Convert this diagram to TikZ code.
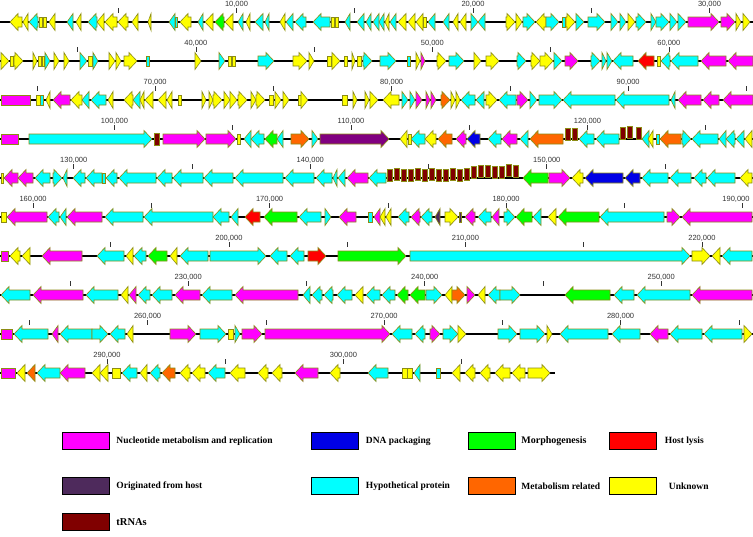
\documentclass[tikz,border=0pt]{standalone}
\usepackage{fontspec}
\setmainfont{Liberation Serif}
\setsansfont{Liberation Sans}
\usetikzlibrary{positioning}

\definecolor{mag}{RGB}{255,0,255}
\definecolor{cya}{RGB}{0,255,255}
\definecolor{yel}{RGB}{255,255,0}
\definecolor{grn}{RGB}{0,255,0}
\definecolor{hred}{RGB}{255,0,0}
\definecolor{blu}{RGB}{0,0,230}
\definecolor{ora}{RGB}{255,102,0}
\definecolor{pur}{RGB}{128,0,128}
\definecolor{hostp}{RGB}{78,42,92}
\definecolor{trnared}{RGB}{128,0,0}
\definecolor{edge}{RGB}{140,140,20}

\tikzset{
  gene/.style={draw=edge, line width=0.6pt, line join=miter},
  trnab/.style={draw=edge, fill=trnared, line width=0.8pt},
  track/.style={line width=1.4pt, black},
  tickln/.style={line width=0.6pt, black!80},
  ticklab/.style={font={\sffamily\fontsize{7.5}{8}\selectfont}, text=black!80, inner sep=0pt},
  legbox/.style={draw=black, line width=0.5pt, minimum width=47pt, minimum height=17pt, inner sep=0pt},
  legtext/.style={font={\bfseries\fontsize{9.5}{11}\selectfont}, inner sep=0pt}
}

% one gene: x1, x2, f/r/b, colour
\newcommand{\genef}[3]{%
  \pgfmathsetmacro{\hx}{max(#1,#2-8)}%
  \filldraw[gene,fill=#3] (#1,-5) -- (\hx,-5) -- (\hx,-8.5) -- (#2,0) -- (\hx,8.5) -- (\hx,5) -- (#1,5) -- cycle;}
\newcommand{\gener}[3]{%
  \pgfmathsetmacro{\hx}{min(#2,#1+8)}%
  \filldraw[gene,fill=#3] (#2,-5) -- (\hx,-5) -- (\hx,-8.5) -- (#1,0) -- (\hx,8.5) -- (\hx,5) -- (#2,5) -- cycle;}
\newcommand{\geneb}[3]{\filldraw[gene,fill=#3] (#1,-5) rectangle (#2,5);}
\newcommand{\gene}[4]{\csname gene#3\endcsname{#1}{#2}{#4}}
% tRNA: x, lift
\newcommand{\trna}[2]{\filldraw[trnab] ({#1},{3-#2}) rectangle ({#1+5},{-9-#2});}

\begin{document}
\begin{tikzpicture}[x=1pt, y=-1pt]
\fill[white] (0,0) rectangle (753,536);
\useasboundingbox (0,0) rectangle (753,536);

% backbone
\foreach \r in {0,...,8}
  \draw[track] (0,{22+39*\r}) -- (753,{22+39*\r});
\draw[track] (0,373) -- (555,373);

% scale
\foreach \n in {1,...,61}{
  \pgfmathtruncatemacro{\kb}{5*\n}
  \pgfmathtruncatemacro{\rw}{floor(\kb/31.72)}
  \pgfmathsetmacro{\tx}{(\kb-\rw*31.72)*23.65}
  \pgfmathsetmacro{\lx}{min(\tx,736)}
  \pgfmathsetmacro{\ty}{22+39*\rw}
  \draw[tickln] (\tx,\ty-14) -- (\tx,\ty-9);
  \ifodd\n\else \node[ticklab] (t\n) at (\lx,\ty-18) {\kb,000}; \fi
}

% row 1
\begin{scope}[shift={(0,22)}]
\foreach \xa/\xb/\gd/\col in {10/22/r/yel, 23/28/r/yel, 29/38/r/cya, 39/42/b/yel, 43/46/b/yel, 49/55/r/yel,
  67/73/r/cya, 76/81/r/yel, 88/97/r/cya, 97/104/r/yel, 105/117/r/yel, 118/128/r/yel, 132/138/r/yel,
  148/151/r/yel, 169/175/r/cya, 175/177/b/cya, 180/191/r/yel, 198/203/r/cya, 205/213/r/yel, 215/224/r/grn,
  225/233/r/yel, 238/243/r/cya, 246/250/r/yel, 255/263/r/cya, 265/269/r/cya, 280/285/r/yel, 286/293/r/cya,
  295/306/r/cya, 313/330/r/cya, 331/334/b/yel, 335/338/b/yel, 345/350/r/cya, 357/364/r/cya, 366/371/r/cya,
  373/379/r/cya, 379/384/r/cya, 385/389/r/yel, 390/396/r/cya, 398/406/r/yel, 408/415/r/yel, 416/423/r/yel,
  423/426/b/yel, 428/435/r/cya, 443/449/r/cya, 453/458/r/yel, 460/466/r/yel, 471/478/f/cya, 478/485/r/cya,
  506/515/f/yel, 516/522/f/yel, 523/535/f/cya, 536/546/r/yel, 546/559/f/cya, 562/565/b/cya, 566/575/f/yel,
  576/584/f/cya, 588/605/f/cya, 611/618/f/cya, 620/626/f/cya, 628/635/f/yel, 636/646/f/cya, 651/656/f/cya,
  656/669/f/cya, 670/677/f/cya, 678/686/f/cya, 688/719/f/mag, 721/735/f/mag, 736/741/f/yel, 743/750/f/yel}
  {\gene{\xa}{\xb}{\gd}{\col}}
\end{scope}

% row 2
\begin{scope}[shift={(0,61)}]
\foreach \xa/\xb/\gd/\col in {1/9/f/yel, 10/13/b/yel, 14/23/f/yel, 33/37/f/yel, 38/41/b/yel, 42/44/b/yel,
  45/50/f/cya, 54/59/f/yel, 64/69/f/yel, 80/87/f/cya, 88/92/b/yel, 93/98/f/cya, 109/115/f/yel, 116/121/f/yel,
  124/137/f/yel, 146/149/b/cya, 195/201/f/yel, 219/225/f/cya, 228/231/b/yel, 232/235/b/yel, 258/274/f/cya,
  293/307/f/yel, 309/314/f/yel, 327/331/b/yel, 332/340/f/yel, 344/347/b/yel, 352/355/f/yel, 357/361/b/yel,
  363/372/f/cya, 380/396/f/cya, 407/410/b/cya, 416/420/f/yel, 421/425/f/mag, 437/446/f/yel, 449/464/f/cya,
  474/481/f/yel, 486/499/f/yel, 517/526/f/cya, 531/540/f/yel, 540/553/f/yel, 554/562/f/cya, 565/578/f/mag,
  591/600/f/cya, 602/606/f/cya, 607/612/f/cya, 613/633/r/cya, 638/654/r/hred, 657/660/b/yel, 661/670/r/cya,
  671/698/r/cya, 701/726/r/mag, 728/753/r/mag}
  {\gene{\xa}{\xb}{\gd}{\col}}
\end{scope}

% row 3
\begin{scope}[shift={(0,100)}]
\foreach \xa/\xb/\gd/\col in {1/30/b/mag, 36/40/b/yel, 40/43/b/cya, 46/50/r/yel, 53/70/r/mag, 71/82/r/yel,
  82/89/r/cya, 91/106/r/cya, 108/113/r/yel, 124/133/r/yel, 133/140/r/cya, 140/144/r/yel, 145/153/r/yel,
  158/166/r/yel, 167/172/r/yel, 178/181/b/yel, 202/206/f/yel, 209/213/f/yel, 213/222/f/yel, 224/230/f/yel,
  230/237/f/yel, 238/247/f/yel, 251/256/f/yel, 256/265/f/yel, 269/273/b/yel, 275/281/f/yel, 283/289/f/yel,
  298/301/b/yel, 301/308/f/yel, 342/347/b/yel, 353/357/f/yel, 365/369/f/yel, 370/378/f/yel, 383/399/r/yel,
  402/408/f/cya, 410/415/f/cya, 416/422/f/mag, 426/430/f/mag, 431/436/f/mag, 441/450/f/ora, 451/455/f/yel,
  456/460/f/yel, 461/475/r/cya, 476/484/r/cya, 486/497/f/yel, 499/516/r/cya, 517/528/f/mag, 530/537/f/cya,
  539/562/f/cya, 563/615/r/cya, 616/669/r/cya, 671/675/r/cya, 678/701/r/mag, 703/719/r/mag, 723/753/r/mag}
  {\gene{\xa}{\xb}{\gd}{\col}}
\end{scope}

% row 4
\begin{scope}[shift={(0,139)}]
\foreach \xa/\xb/\gd/\col in {1/18/b/mag, 29/152/f/cya, 163/205/f/mag, 206/236/f/mag, 237/240/b/yel,
  244/251/r/cya, 251/264/r/cya, 265/277/r/grn, 277/283/r/cya, 291/309/f/ora, 312/318/f/cya, 320/389/f/pur,
  400/407/r/yel, 408/411/b/yel, 411/425/r/cya, 425/436/r/yel, 438/452/r/ora, 456/466/r/mag, 467/480/r/blu,
  488/501/r/cya, 502/517/r/mag, 520/528/r/cya, 530/563/r/ora, 579/594/r/cya, 596/619/r/cya, 642/649/r/cya,
  648/653/r/yel, 656/659/b/cya, 660/681/r/ora, 682/691/f/cya, 692/718/r/cya, 719/726/r/cya, 726/735/r/cya,
  736/744/r/cya, 745/752/r/yel}
  {\gene{\xa}{\xb}{\gd}{\col}}
\foreach \xa/\lf in {154/-3, 565/2, 572/2, 620/3, 627/4, 636/3}
  {\trna{\xa}{\lf}}
\end{scope}

% row 5
\begin{scope}[shift={(0,178)}]
\foreach \xa/\xb/\gd/\col in {1/3/b/yel, 4/18/r/mag, 18/33/r/mag, 35/50/r/cya, 53/62/f/cya, 63/67/r/cya,
  73/85/r/cya, 86/102/r/cya, 102/105/b/cya, 106/117/r/cya, 119/156/r/cya, 157/172/r/cya, 173/203/r/cya,
  204/233/r/cya, 235/283/r/cya, 285/314/r/cya, 316/332/r/cya, 333/337/r/cya, 338/345/r/cya, 347/368/r/mag,
  369/386/r/cya, 523/548/r/grn, 549/570/f/mag, 572/583/r/yel, 585/623/r/blu, 625/640/r/blu, 642/668/r/cya,
  670/691/r/cya, 694/706/r/cya, 707/735/r/cya, 740/752/r/yel}
  {\gene{\xa}{\xb}{\gd}{\col}}
\foreach \i/\lf in {0/0, 1/1, 2/0, 3/0, 4/1, 5/0, 6/1, 7/0, 8/0, 9/1, 10/0, 11/1, 12/3, 13/4, 14/4, 15/3, 16/3, 17/5, 18/4}
  {\trna{387+7*\i}{\lf}}
\end{scope}

% row 6
\begin{scope}[shift={(0,217)}]
\foreach \xa/\xb/\gd/\col in {1/6/b/yel, 7/47/r/mag, 48/59/r/cya, 60/66/r/cya, 67/102/r/mag, 105/143/r/cya,
  144/213/r/cya, 213/229/r/cya, 231/238/r/cya, 245/260/r/hred, 264/297/r/grn, 299/321/r/cya, 325/331/f/cya,
  339/356/r/mag, 368/372/b/cya, 374/380/r/mag, 380/385/r/yel, 386/391/r/yel, 398/409/r/cya, 411/420/r/mag,
  421/432/r/cya, 435/440/r/hostp, 445/458/f/yel, 459/461/b/hostp, 465/475/r/mag, 478/491/r/cya, 492/499/r/mag,
  504/515/f/cya, 516/532/r/grn, 533/541/r/cya, 548/556/r/yel, 558/599/r/grn, 600/664/r/cya, 667/680/f/mag,
  682/752/r/mag}
  {\gene{\xa}{\xb}{\gd}{\col}}
\end{scope}

% row 7
\begin{scope}[shift={(0,256)}]
\foreach \xa/\xb/\gd/\col in {1/8/b/mag, 10/20/r/yel, 22/30/r/yel, 42/82/r/mag, 97/124/r/cya, 126/133/r/yel,
  134/146/r/cya, 148/167/r/grn, 170/177/r/yel, 180/208/r/cya, 210/266/f/cya, 270/287/r/cya, 290/304/r/cya,
  308/326/f/hred, 338/406/f/grn, 410/690/f/cya, 692/710/f/yel, 712/720/r/yel, 722/752/r/cya}
  {\gene{\xa}{\xb}{\gd}{\col}}
\end{scope}

% row 8
\begin{scope}[shift={(0,295)}]
\foreach \xa/\xb/\gd/\col in {1/30/r/cya, 33/83/r/mag, 86/118/r/cya, 121/128/r/yel, 129/136/r/mag,
  138/150/r/cya, 152/172/r/cya, 175/200/r/mag, 202/232/r/cya, 235/298/r/mag, 303/310/r/cya, 312/322/r/cya,
  324/333/r/cya, 337/352/r/cya, 355/363/r/yel, 366/380/r/cya, 382/395/r/cya, 397/408/r/grn, 410/425/r/grn,
  426/442/f/cya, 445/452/r/yel, 452/465/f/ora, 467/475/f/mag, 478/485/r/yel, 488/500/r/cya, 500/520/f/cya,
  565/610/r/grn, 614/634/r/cya, 637/690/r/cya, 692/752/r/mag}
  {\gene{\xa}{\xb}{\gd}{\col}}
\end{scope}

% row 9
\begin{scope}[shift={(0,334)}]
\foreach \xa/\xb/\gd/\col in {1/12/b/mag, 14/48/r/cya, 52/58/r/mag, 60/92/r/cya, 92/108/f/cya, 110/125/r/cya,
  127/133/r/yel, 170/196/f/mag, 200/226/f/cya, 228/233/b/yel, 235/240/f/cya, 242/262/f/mag, 265/390/f/mag,
  392/412/r/cya, 415/425/r/cya, 430/440/f/mag, 443/458/f/cya, 458/466/f/yel, 498/517/f/cya, 520/545/f/cya,
  547/552/f/yel, 560/608/r/cya, 612/640/r/cya, 650/668/r/mag, 670/702/r/cya, 704/742/r/cya, 744/752/f/yel}
  {\gene{\xa}{\xb}{\gd}{\col}}
\end{scope}

% row 10
\begin{scope}[shift={(0,373)}]
\foreach \xa/\xb/\gd/\col in {1/15/b/mag, 17/25/r/yel, 27/35/r/ora, 37/60/r/cya, 60/85/r/mag, 92/100/r/yel,
  100/108/r/yel, 112/120/b/yel, 122/137/r/cya, 140/147/r/yel, 150/160/r/cya, 162/175/r/ora, 180/190/r/yel,
  192/205/r/yel, 208/225/r/cya, 230/245/r/yel, 258/268/r/yel, 272/282/r/yel, 295/318/r/mag, 330/340/r/yel,
  368/388/r/cya, 402/407/b/yel, 407/412/b/yel, 414/420/r/cya, 436/440/b/cya, 452/460/r/yel, 465/475/r/yel,
  480/490/r/yel, 495/510/r/yel, 512/525/r/yel, 528/550/f/yel}
  {\gene{\xa}{\xb}{\gd}{\col}}
\end{scope}

% legend
\node[legbox, fill=mag] (lnuc) at (85.5,441) {};
\node[legtext, right=7pt of lnuc] (tnuc) {Nucleotide metabolism and replication};
\node[legbox, fill=blu] (ldna) at (335,441) {};
\node[legtext, right=7pt of ldna] (tdna) {DNA packaging};
\node[legbox, fill=grn] (lmor) at (491.5,441) {};
\node[legtext, right=6pt of lmor, font={\bfseries\fontsize{10}{12}\selectfont}] (tmor) {Morphogenesis};
\node[legbox, fill=hred] (llys) at (633,441) {};
\node[legtext, right=8pt of llys] (tlys) {Host lysis};
\node[legbox, fill=hostp] (lhost) at (85.5,486) {};
\node[legtext, right=7pt of lhost] (thost) {Originated from host};
\node[legbox, fill=cya] (lhyp) at (335,486) {};
\node[legtext, right=7pt of lhyp] (thyp) {Hypothetical protein};
\node[legbox, fill=ora] (lmet) at (491.5,486) {};
\node[legtext, right=6pt of lmet] (tmet) {Metabolism related};
\node[legbox, fill=yel] (lunk) at (633,486) {};
\node[legtext, right=12pt of lunk] (tunk) {Unknown};
\node[legbox, fill=trnared] (ltrna) at (85.5,522) {};
\node[legtext, right=7pt of ltrna, font={\bfseries\fontsize{10.5}{12}\selectfont}] (ttrna) {tRNAs};
\end{tikzpicture}
\end{document}
